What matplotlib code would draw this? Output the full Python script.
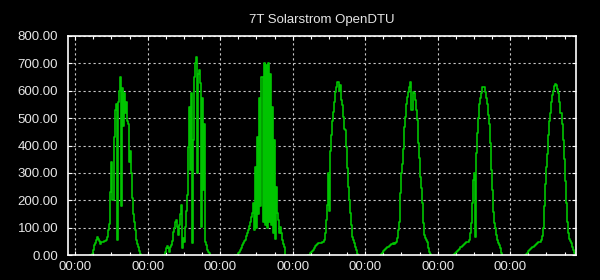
import numpy as np
import matplotlib
matplotlib.use("Agg")
import matplotlib.pyplot as plt
import matplotlib.dates as mdates
from matplotlib.ticker import FormatStrFormatter

plt.rcParams["font.family"] = ["Liberation Sans", "DejaVu Sans"]

# one sample every 20 minutes, starting 05:00 each day (watts)
first_day = np.datetime64("2023-06-12T00:00")
sample_start_min = 5 * 60
sample_step_min = 20

day1 = [0, 0, 5, 20, 35, 45, 55, 65, 60, 50, 40, 48, 48, 48, 50, 50, 55, 65, 90, 115,
        230, 340, 200, 430, 530, 550, 55, 560, 600, 650, 180, 610, 470, 590, 520, 560,
        490, 480, 340, 380, 300, 210, 150, 120, 90, 55, 40, 30, 15, 5, 0]
day2 = [0, 0, 12, 25, 33, 24, 12, 30, 36, 50, 85, 100, 122, 128, 103, 73, 109, 150, 182,
        24, 61, 49, 103, 160, 219, 395, 541, 310, 590, 43, 420, 651, 700, 724, 300, 663,
        675, 627, 103, 572, 237, 480, 49, 36, 18, 12, 6, 0]
day3 = [0, 0, 0, 6, 12, 18, 24, 35, 43, 50, 55, 70, 79, 91, 105, 122, 140, 152, 189, 90,
        322, 100, 432, 150, 572, 180, 651, 120, 700, 110, 693, 100, 700, 120, 663, 110,
        541, 80, 420, 60, 250, 152, 128, 80, 103, 79, 55, 40, 30, 0]
day4 = [0, 0, 6, 12, 16, 20, 24, 33, 38, 40, 43, 45, 45, 45, 47, 49, 55, 79, 128, 182,
        300, 160, 380, 440, 490, 523, 560, 596, 614, 633, 633, 600, 620, 566, 547, 505,
        460, 456, 395, 316, 249, 201, 152, 110, 67, 55, 45, 30, 18, 5, 0]
day5 = [0, 3, 8, 14, 18, 21, 24, 28, 31, 34, 37, 40, 42, 43, 41, 44, 47, 61, 91, 122,
        225, 298, 334, 389, 468, 505, 553, 578, 596, 614, 633, 529, 596, 590, 566, 529,
        493, 410, 353, 286, 243, 189, 116, 73, 61, 55, 49, 25, 10, 2, 0]
day6 = [0, 2, 6, 10, 14, 18, 22, 28, 31, 34, 37, 42, 45, 46, 47, 49, 55, 79, 116, 189,
        274, 298, 67, 371, 444, 499, 553, 572, 590, 614, 614, 614, 596, 572, 553, 511,
        480, 408, 310, 237, 158, 116, 97, 73, 55, 43, 35, 24, 6, 0]
day7 = [0, 2, 8, 14, 18, 21, 25, 28, 30, 34, 38, 41, 44, 47, 48, 49, 55, 70, 100, 180,
        260, 320, 370, 440, 490, 520, 560, 585, 600, 618, 625, 620, 605, 590, 560, 520,
        480, 420, 350, 270, 190, 120, 80, 60, 50, 43, 30, 18, 8, 3, 0]
days = [day1, day2, day3, day4, day5, day6, day7]

y_ticks = np.arange(0, 801, 100)

fig = plt.figure(figsize=(6, 2.8), dpi=100, facecolor="black")
ax = fig.add_axes([68 / 600, 25 / 280, 508 / 600, 219 / 280], facecolor="black")

for d, vals in enumerate(days):
    t = (first_day + np.timedelta64(d * 1440 + sample_start_min, "m")
         + np.arange(len(vals)) * np.timedelta64(sample_step_min, "m"))
    ax.plot(t, vals, color="#00c400", lw=1.2, drawstyle="steps-post")

ax.set_xlim(first_day - np.timedelta64(144, "m"), first_day + np.timedelta64(9948, "m"))
ax.set_ylim(0, 800)
ax.set_yticks(y_ticks)
ax.yaxis.set_major_formatter(FormatStrFormatter("%.2f"))

ax.xaxis.set_major_locator(mdates.DayLocator())
ax.xaxis.set_minor_locator(mdates.HourLocator(byhour=[6, 12, 18]))
ax.xaxis.set_major_formatter(mdates.DateFormatter("%H:%M"))

txt = "#e6e6e6"
ax.tick_params(which="both", direction="in", colors="white", labelcolor=txt,
               labelsize=9.5, top=True, right=True)
ax.tick_params(which="major", length=3, width=0.8)
ax.tick_params(which="minor", length=2, width=0.8)
ax.tick_params(axis="y", pad=7)
ax.tick_params(axis="x", pad=4)

for s in ax.spines.values():
    s.set_color("white")
    s.set_linewidth(1.2)

ax.grid(True, which="major", color="#c8c8c8", linestyle=(0, (2, 2.5)), lw=0.8)

ax.set_title("7T Solarstrom OpenDTU", color=txt, fontsize=9.5, pad=9)

fig.savefig("out.png", dpi=100, facecolor="black")
